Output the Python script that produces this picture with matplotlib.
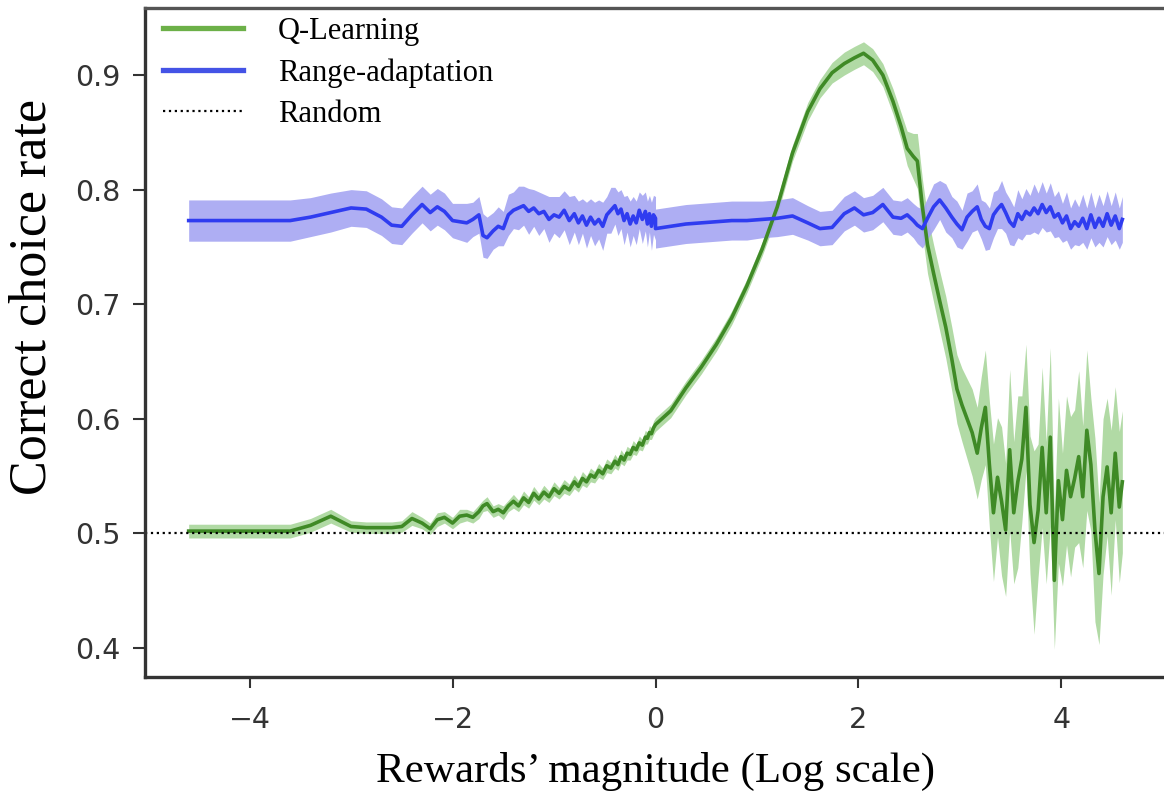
import numpy as np
import matplotlib
matplotlib.use("Agg")
import matplotlib.pyplot as plt

# Eje x: log de la magnitud de la recompensa (dos grillas, se tocan en 0)
x_izq = [-4.6, -4.2, -3.9, -3.6, -3.4,
         -3.2, -3.0, -2.85, -2.7, -2.6,
         -2.5, -2.4, -2.3, -2.22, -2.15,
         -2.08, -2.0, -1.93, -1.86, -1.8,
         -1.74, -1.7, -1.66, -1.6, -1.55,
         -1.5, -1.45, -1.4, -1.35, -1.3,
         -1.25, -1.2, -1.15, -1.1, -1.05,
         -1.0, -0.95, -0.9, -0.85, -0.8,
         -0.76, -0.72, -0.68, -0.64, -0.6,
         -0.56, -0.52, -0.48, -0.44, -0.4,
         -0.37, -0.34, -0.31, -0.28, -0.25,
         -0.22, -0.19, -0.16, -0.13, -0.1,
         -0.08, -0.06, -0.04, -0.02, 0.0]
x_der = [0.0, 0.15, 0.3, 0.45, 0.6,
         0.75, 0.9, 1.05, 1.2, 1.35,
         1.5, 1.62, 1.74, 1.86, 1.96,
         2.05, 2.14, 2.24, 2.34, 2.42,
         2.48, 2.54, 2.58, 2.63, 2.68,
         2.74, 2.8, 2.86, 2.92, 2.97,
         3.02, 3.07, 3.12, 3.17, 3.21,
         3.25, 3.29, 3.33, 3.37, 3.41,
         3.45, 3.49, 3.53, 3.57, 3.61,
         3.65, 3.69, 3.73, 3.77, 3.81,
         3.85, 3.89, 3.93, 3.97, 4.01,
         4.05, 4.09, 4.13, 4.17, 4.21,
         4.25, 4.29, 4.33, 4.37, 4.41,
         4.45, 4.49, 4.53, 4.57, 4.6]

# Q-Learning
ql_izq = [0.502, 0.502, 0.502, 0.502, 0.507,
          0.515, 0.506, 0.505, 0.505, 0.505,
          0.506, 0.513, 0.509, 0.504, 0.512,
          0.514, 0.509, 0.515, 0.516, 0.514,
          0.519, 0.524, 0.526, 0.519, 0.521,
          0.518, 0.524, 0.528, 0.524, 0.531,
          0.527, 0.535, 0.530, 0.536, 0.532,
          0.539, 0.535, 0.541, 0.538, 0.545,
          0.541, 0.548, 0.545, 0.551, 0.549,
          0.555, 0.552, 0.559, 0.557, 0.563,
          0.560, 0.567, 0.564, 0.570, 0.569,
          0.575, 0.573, 0.579, 0.577, 0.584,
          0.583, 0.588, 0.587, 0.592, 0.595]
ql_izq_err = [0.006, 0.006, 0.006, 0.006, 0.006,
              0.006, 0.005, 0.005, 0.005, 0.005,
              0.005, 0.006, 0.005, 0.005, 0.006,
              0.005, 0.005, 0.006, 0.005, 0.005,
              0.006, 0.005, 0.006, 0.005, 0.005,
              0.006, 0.005, 0.006, 0.005, 0.006,
              0.005, 0.006, 0.005, 0.006, 0.005,
              0.006, 0.005, 0.006, 0.005, 0.006,
              0.005, 0.006, 0.005, 0.006, 0.005,
              0.006, 0.005, 0.006, 0.005, 0.006,
              0.005, 0.006, 0.005, 0.006, 0.005,
              0.006, 0.005, 0.006, 0.005, 0.006,
              0.005, 0.006, 0.005, 0.006, 0.006]
ql_der = [0.595, 0.607, 0.627, 0.645, 0.665,
          0.688, 0.716, 0.748, 0.785, 0.832,
          0.868, 0.888, 0.902, 0.910, 0.915,
          0.919, 0.913, 0.900, 0.877, 0.855,
          0.836, 0.829, 0.825, 0.785, 0.752,
          0.727, 0.703, 0.680, 0.652, 0.626,
          0.612, 0.600, 0.588, 0.570, 0.592,
          0.610, 0.560, 0.518, 0.549, 0.528,
          0.503, 0.573, 0.518, 0.545, 0.565,
          0.610, 0.525, 0.492, 0.520, 0.575,
          0.518, 0.584, 0.459, 0.546, 0.512,
          0.555, 0.532, 0.548, 0.567, 0.532,
          0.590, 0.560, 0.503, 0.465, 0.532,
          0.558, 0.518, 0.570, 0.523, 0.545]
ql_der_err = [0.006, 0.006, 0.006, 0.006, 0.006,
              0.006, 0.006, 0.006, 0.007, 0.007,
              0.008, 0.008, 0.009, 0.010, 0.010,
              0.010, 0.010, 0.010, 0.011, 0.012,
              0.015, 0.020, 0.024, 0.024, 0.025,
              0.025, 0.026, 0.027, 0.028, 0.030,
              0.032, 0.035, 0.038, 0.040, 0.045,
              0.050, 0.055, 0.060, 0.052, 0.065,
              0.058, 0.070, 0.062, 0.075, 0.055,
              0.055, 0.060, 0.080, 0.058, 0.070,
              0.062, 0.078, 0.060, 0.072, 0.058,
              0.065, 0.070, 0.060, 0.075, 0.062,
              0.070, 0.058, 0.080, 0.062, 0.068,
              0.060, 0.072, 0.058, 0.066, 0.062]

# Range-adaptation
ra_izq = [0.773, 0.773, 0.773, 0.773, 0.776,
          0.780, 0.784, 0.783, 0.776, 0.769,
          0.768, 0.778, 0.787, 0.780, 0.785,
          0.781, 0.773, 0.772, 0.771, 0.774,
          0.778, 0.760, 0.758, 0.764, 0.768,
          0.766, 0.778, 0.782, 0.784, 0.786,
          0.781, 0.784, 0.779, 0.781, 0.774,
          0.778, 0.776, 0.782, 0.773, 0.779,
          0.771, 0.777, 0.769, 0.776, 0.770,
          0.774, 0.768, 0.778, 0.782, 0.786,
          0.779, 0.783, 0.773, 0.779, 0.770,
          0.777, 0.771, 0.782, 0.774, 0.781,
          0.770, 0.779, 0.768, 0.778, 0.775]
ra_izq_err = [0.018, 0.018, 0.018, 0.018, 0.017,
              0.017, 0.016, 0.016, 0.016, 0.016,
              0.016, 0.016, 0.016, 0.016, 0.016,
              0.016, 0.015, 0.016, 0.017, 0.015,
              0.016, 0.019, 0.018, 0.016, 0.017,
              0.015, 0.018, 0.016, 0.019, 0.017,
              0.020, 0.016, 0.019, 0.015, 0.020,
              0.016, 0.018, 0.017, 0.021, 0.016,
              0.019, 0.015, 0.020, 0.016, 0.019,
              0.017, 0.021, 0.016, 0.020, 0.016,
              0.019, 0.017, 0.021, 0.016, 0.020,
              0.017, 0.019, 0.016, 0.021, 0.017,
              0.020, 0.016, 0.021, 0.017, 0.019]
ra_der = [0.766, 0.768, 0.770, 0.771, 0.772,
          0.773, 0.773, 0.774, 0.775, 0.777,
          0.771, 0.766, 0.767, 0.779, 0.784,
          0.778, 0.780, 0.787, 0.776, 0.775,
          0.778, 0.773, 0.769, 0.766, 0.775,
          0.785, 0.791, 0.784, 0.776, 0.770,
          0.765, 0.776, 0.781, 0.785, 0.774,
          0.768, 0.766, 0.778, 0.783, 0.787,
          0.780, 0.772, 0.768, 0.779, 0.774,
          0.781, 0.778, 0.784, 0.779, 0.787,
          0.780, 0.785, 0.776, 0.779, 0.771,
          0.777, 0.766, 0.772, 0.768, 0.775,
          0.766, 0.778, 0.767, 0.775, 0.768,
          0.779, 0.769, 0.777, 0.766, 0.774]
ra_der_err = [0.017, 0.017, 0.017, 0.017, 0.017,
              0.017, 0.017, 0.016, 0.016, 0.016,
              0.015, 0.015, 0.015, 0.015, 0.015,
              0.015, 0.015, 0.015, 0.015, 0.015,
              0.015, 0.015, 0.016, 0.017, 0.018,
              0.020, 0.017, 0.021, 0.018, 0.020,
              0.017, 0.021, 0.018, 0.020, 0.017,
              0.021, 0.018, 0.020, 0.017, 0.021,
              0.018, 0.020, 0.017, 0.021, 0.018,
              0.020, 0.017, 0.021, 0.018, 0.020,
              0.017, 0.021, 0.018, 0.020, 0.017,
              0.021, 0.018, 0.020, 0.017, 0.021,
              0.018, 0.020, 0.017, 0.021, 0.018,
              0.020, 0.017, 0.021, 0.018, 0.020]

nivel_azar = 0.5

x = np.array(x_izq + x_der)
ql = np.array(ql_izq + ql_der)
ql_err = np.array(ql_izq_err + ql_der_err)
ra = np.array(ra_izq + ra_der)
ra_err = np.array(ra_izq_err + ra_der_err)

verde_linea = '#3f8a26'
verde_banda = '#a9d69b'
azul_linea = '#2f3cf0'
azul_banda = '#a5a5f2'

fig = plt.figure(figsize=(11.64, 8.09), dpi=100)
ax = fig.add_axes([0.1246, 0.1632, 0.8771, 0.8269])

ax.fill_between(x, ql - ql_err, ql + ql_err, color=verde_banda, lw=0, alpha=0.9)
ax.fill_between(x, ra - ra_err, ra + ra_err, color=azul_banda, lw=0, alpha=0.9)
ax.plot(x, ql, color=verde_linea, lw=2.6)
ax.plot(x, ra, color=azul_linea, lw=2.6)
ax.axhline(nivel_azar, color='black', ls=':', lw=1.6)

ax.set_xlim(-5.03, 5.03)
ax.set_ylim(0.3747, 0.9585)
ax.set_xticks([-4, -2, 0, 2, 4])
ax.set_xticklabels(['\u22124', '\u22122', '0', '2', '4'])
ax.set_yticks([0.4, 0.5, 0.6, 0.7, 0.8, 0.9])
ax.set_yticklabels(['0.4', '0.5', '0.6', '0.7', '0.8', '0.9'])
ax.tick_params(axis='both', labelsize=20.5, labelcolor='#333333', color='#333333',
               width=1.5)
ax.tick_params(axis='y', length=8.5, pad=9)
ax.tick_params(axis='x', length=8, pad=13)

for lado in ['left', 'bottom', 'top']:
    ax.spines[lado].set_linewidth(2.4)
    ax.spines[lado].set_color('#333333')
ax.spines['top'].set_color('#555555')

serif = 'Liberation Serif'
ax.set_xlabel('Rewards\u2019 magnitude (Log scale)', fontsize=31, family=serif, labelpad=13)
ax.set_ylabel('Correct choice rate', fontsize=37.5, family=serif)
ax.yaxis.set_label_coords(-0.087, 0.568)

# Leyenda con muestras de color como en la figura original
h1, = ax.plot([], [], color='#6cb048', lw=3.8)
h2, = ax.plot([], [], color='#4453e6', lw=3.8)
h3, = ax.plot([], [], color='black', ls=':', lw=1.6)
ax.legend([h1, h2, h3], ['Q-Learning', 'Range-adaptation', 'Random'],
          loc='upper left', bbox_to_anchor=(0.0118, 0.9955),
          frameon=False, prop={'family': serif, 'size': 22},
          handlelength=2.6, handletextpad=1.15, labelspacing=0.4,
          borderaxespad=0.0, borderpad=0.2)

fig.savefig('out.png', dpi=100)
